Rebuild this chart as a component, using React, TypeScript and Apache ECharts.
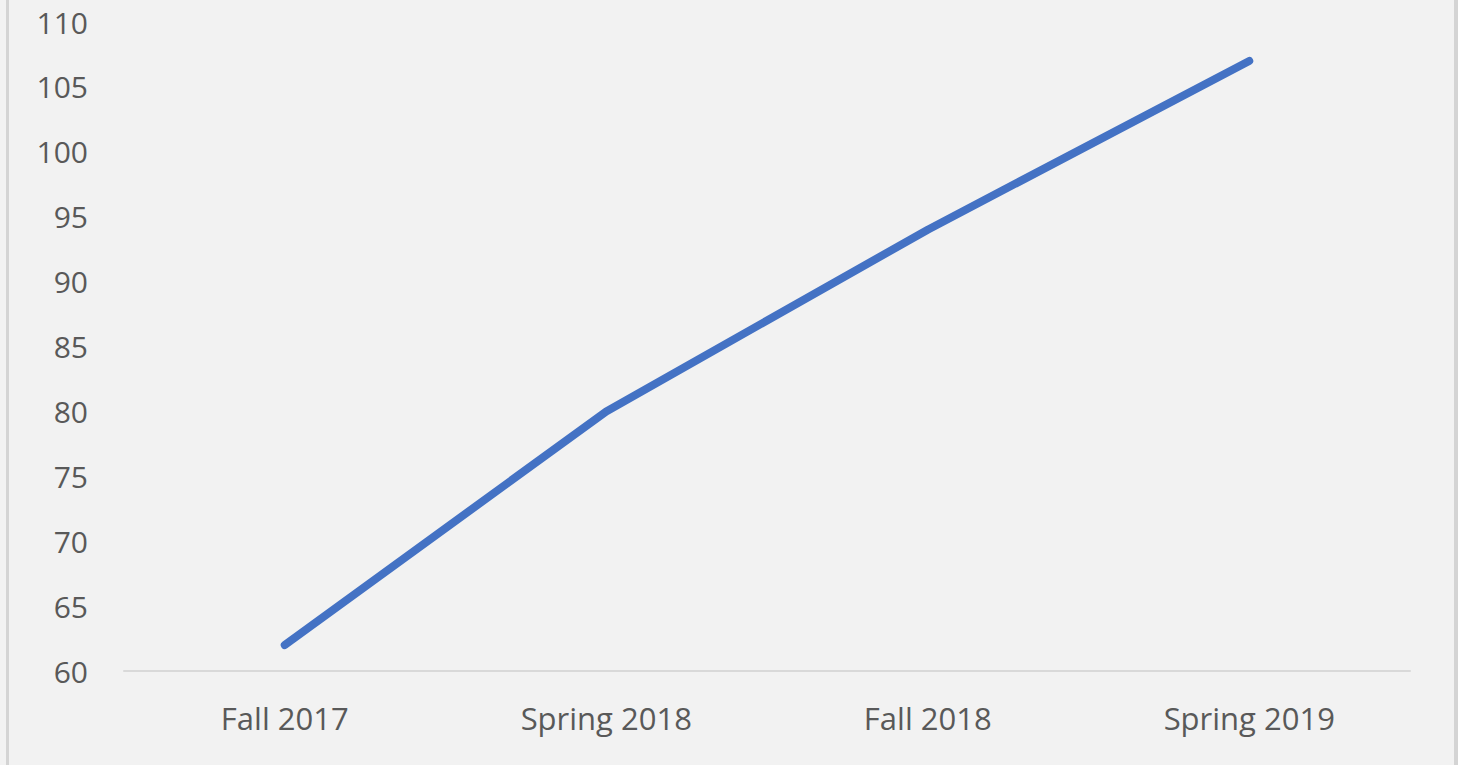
import React, { useEffect, useRef } from "react";
import * as echarts from "echarts";

const categories = ["Fall 2017", "Spring 2018", "Fall 2018", "Spring 2019"];
const values = [62, 80, 94, 107];
const yMin = 60;
const yMax = 110;
const yStep = 5;

export default function App() {
  const ref = useRef<HTMLDivElement>(null);
  useEffect(() => {
    document.body.style.margin = "0";
    const chart = echarts.init(ref.current!, null, { renderer: "svg" });
    chart.setOption({
      animation: false,
      backgroundColor: "#f2f2f2",
      grid: { left: 124, right: 48, top: 22, bottom: 94 },
      xAxis: {
        type: "category",
        data: categories,
        boundaryGap: true,
        axisLine: { show: true, lineStyle: { color: "#d9d9d9", width: 2 } },
        axisTick: { show: false },
        axisLabel: { color: "#595959", fontSize: 31, fontFamily: "Open Sans", margin: 31 },
        splitLine: { show: false },
      },
      yAxis: {
        type: "value",
        min: yMin,
        max: yMax,
        interval: yStep,
        axisLine: { show: false },
        axisTick: { show: false },
        splitLine: { show: false },
        axisLabel: { color: "#595959", fontSize: 30, fontFamily: "Open Sans", margin: 36 },
      },
      series: [
        {
          type: "line",
          data: values,
          symbol: "none",
          lineStyle: { color: "#4472c4", width: 8, cap: "round", join: "round" },
        },
      ],
    });
    return () => chart.dispose();
  }, []);
  return (
    <div style={{ position: "relative", width: 1460, height: 765, background: "#fff" }}>
      <div ref={ref} style={{ position: "absolute", left: 0, top: 0, width: 1458, height: 765 }} />
      <div style={{ position: "absolute", left: 6, top: 0, width: 3, height: 765, background: "#d4d4d4" }} />
      <div style={{ position: "absolute", left: 1454, top: 0, width: 4, height: 765, background: "#d4d4d4" }} />
    </div>
  );
}
